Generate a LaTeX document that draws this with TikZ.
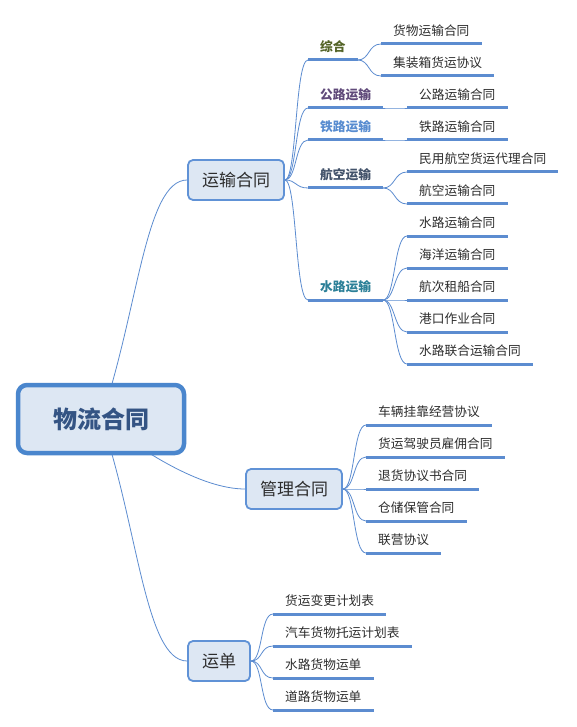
\documentclass[tikz,border=0pt]{standalone}
\usepackage{fontspec}
\newfontfamily\cjk{Noto Sans CJK SC}
\usetikzlibrary{backgrounds}
\definecolor{linkblue}{RGB}{92,140,208}
\definecolor{boxblue}{RGB}{96,146,214}
\definecolor{rootline}{RGB}{74,134,205}
\definecolor{boxfill}{RGB}{221,231,243}
\definecolor{roottext}{RGB}{52,84,132}
\definecolor{darktext}{RGB}{45,45,45}
\definecolor{olive}{RGB}{84,100,40}
\definecolor{plum}{RGB}{96,74,122}
\definecolor{skyblue}{RGB}{88,140,208}
\definecolor{slate}{RGB}{66,82,106}
\definecolor{teal}{RGB}{44,128,152}

\begin{document}
\begin{tikzpicture}[
  x=1pt,y=-1pt,
  every node/.style={font=\cjk\fontsize{12.7}{15}\selectfont,text=darktext},
  rootbox/.style={rectangle,rounded corners=9pt,draw=rootline,line width=4.5pt,
    fill=boxfill,minimum width=166pt,minimum height=68pt,
    font=\cjk\bfseries\fontsize{24}{28}\selectfont,text=roottext},
  topic/.style={rectangle,rounded corners=5pt,draw=boxblue,line width=1.8pt,
    fill=boxfill,inner xsep=14pt,minimum height=40pt,
    font=\cjk\fontsize{17}{20}\selectfont},
  uline/.style={draw=linkblue,line width=3pt},
  leaf/.style={anchor=south west,inner xsep=12pt,inner ysep=5pt,
    text height=10pt,text depth=3pt,
    append after command={(\tikzlastnode.south west) edge[uline] (\tikzlastnode.south east)}},
  branch/.style={leaf,font=\cjk\bfseries\fontsize{12.7}{15}\selectfont},
  link/.style={draw=linkblue,line width=0.8pt},
  twig/.style={to path={.. controls +(12,0) and +(-13,0) .. (\tikztotarget)}},
  ]
  \useasboundingbox (0,0) rectangle (577,727);

  % main topics
  \node[rootbox](wlht) at (101,419) {物流合同};
  \node[topic](ysht) at (236,180) {运输合同};
  \node[topic](glht) at (294,489) {管理合同};
  \node[topic](yd) at (219,661) {运单};

  % 运输合同
  \node[branch,text=olive](zh) at (308,60) {综合};
  \node[branch,text=plum](gl) at (308,108) {公路运输};
  \node[branch,text=skyblue](tl) at (308,140) {铁路运输};
  \node[branch,text=slate](hk) at (308,188) {航空运输};
  \node[branch,text=teal](sl) at (308,300) {水路运输};

  \node[leaf](zh1) at (381,44) {货物运输合同};
  \node[leaf](zh2) at (381,76) {集装箱货运协议};
  \node[leaf](gl1) at (407,108) {公路运输合同};
  \node[leaf](tl1) at (407,140) {铁路运输合同};
  \node[leaf](hk1) at (407,172) {民用航空货运代理合同};
  \node[leaf](hk2) at (407,204) {航空运输合同};
  \node[leaf](sl1) at (407,236) {水路运输合同};
  \node[leaf](sl2) at (407,268) {海洋运输合同};
  \node[leaf](sl3) at (407,300) {航次租船合同};
  \node[leaf](sl4) at (407,332) {港口作业合同};
  \node[leaf](sl5) at (407,364) {水路联合运输合同};

  % 管理合同
  \node[leaf](gm1) at (366,425) {车辆挂靠经营协议};
  \node[leaf](gm2) at (366,457) {货运驾驶员雇佣合同};
  \node[leaf](gm3) at (366,489) {退货协议书合同};
  \node[leaf](gm4) at (366,521) {仓储保管合同};
  \node[leaf](gm5) at (366,553) {联营协议};

  % 运单
  \node[leaf](yd1) at (273,614) {货运变更计划表};
  \node[leaf](yd2) at (273,646) {汽车货物托运计划表};
  \node[leaf](yd3) at (273,678) {水路货物运单};
  \node[leaf](yd4) at (273,710) {道路货物运单};

  \begin{scope}[on background layer]
    \fill[white] (0,0) rectangle (577,727);
    \draw[link] (wlht.center) .. controls +(37,-107) and +(-42,0) .. (ysht.west);
    \draw[link] (wlht.center) .. controls +(39,31) and +(-45,0) .. (glht.west);
    \draw[link] (wlht.center) .. controls +(37,107) and +(-42,0) .. (yd.west);
    \path[link]
    (ysht.east) edge[twig] (zh.south west)
    (ysht.east) edge[twig] (gl.south west)
    (ysht.east) edge[twig] (tl.south west)
    (ysht.east) edge[twig] (hk.south west)
    (ysht.east) edge[twig] (sl.south west)
    (zh.south east) edge[twig] (zh1.south west)
    (zh.south east) edge[twig] (zh2.south west)
    (gl.south east) edge[twig] (gl1.south west)
    (tl.south east) edge[twig] (tl1.south west)
    (hk.south east) edge[twig] (hk1.south west)
    (hk.south east) edge[twig] (hk2.south west)
    (sl.south east) edge[twig] (sl1.south west)
    (sl.south east) edge[twig] (sl2.south west)
    (sl.south east) edge[twig] (sl3.south west)
    (sl.south east) edge[twig] (sl4.south west)
    (sl.south east) edge[twig] (sl5.south west)
    (glht.east) edge[twig] (gm1.south west)
    (glht.east) edge[twig] (gm2.south west)
    (glht.east) edge[twig] (gm3.south west)
    (glht.east) edge[twig] (gm4.south west)
    (glht.east) edge[twig] (gm5.south west)
    (yd.east) edge[twig] (yd1.south west)
    (yd.east) edge[twig] (yd2.south west)
    (yd.east) edge[twig] (yd3.south west)
    (yd.east) edge[twig] (yd4.south west);
  \end{scope}
\end{tikzpicture}
\end{document}
